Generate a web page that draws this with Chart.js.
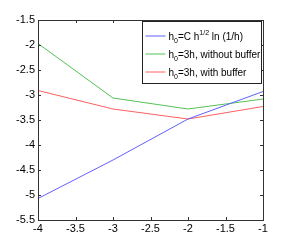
<!DOCTYPE html>
<html>
<head>
<meta charset="utf-8">
<script src="https://cdn.jsdelivr.net/npm/chart.js@4/dist/chart.umd.min.js"></script>
<style>
    html, body { margin: 0; padding: 0; background: #fff; }
    #wrap { width: 291px; height: 249px; }
</style>
</head>
<body>
<div id="wrap"><canvas id="chart" width="291" height="249"></canvas></div>
<script>
const xValues = [-4, -3, -2, -1];
const blueValues = [-5.07, -4.3, -3.48, -2.93];
const greenValues = [-1.97, -3.06, -3.28, -3.08];
const redValues = [-2.91, -3.28, -3.48, -3.23];
const xTicks = [-4, -3.5, -3, -2.5, -2, -1.5, -1];
const yTicks = [-1.5, -2, -2.5, -3, -3.5, -4, -4.5, -5, -5.5];
const legendLabels = [
    { sub: '0', rest: '=C h', sup: '1/2', tail: ' ln (1/h)' },
    { sub: '0', rest: '=3h, without buffer' },
    { sub: '0', rest: '=3h, with buffer' }
];
const colors = ['#6060ff', '#55c055', '#ff6060'];

const FONT = '"Liberation Sans", Arial, sans-serif';

function toPoints(ys) {
    return xValues.map((x, i) => ({ x: x, y: ys[i] }));
}

// box around the axes with inward ticks, like matlab
const boxPlugin = {
    id: 'box',
    afterDraw(chart) {
        const ctx = chart.ctx;
        const a = chart.chartArea;
        const xs = chart.scales.x, ys = chart.scales.y;
        ctx.save();
        ctx.strokeStyle = '#333';
        ctx.lineWidth = 1;
        ctx.strokeRect(Math.round(a.left) + 0.5, Math.round(a.top) + 0.5,
            Math.round(a.right - a.left), Math.round(a.bottom - a.top));
        ctx.beginPath();
        xTicks.forEach(v => {
            const px = Math.round(xs.getPixelForValue(v)) + 0.5;
            ctx.moveTo(px, a.bottom); ctx.lineTo(px, a.bottom - 3);
            ctx.moveTo(px, a.top); ctx.lineTo(px, a.top + 3);
        });
        yTicks.forEach(v => {
            const py = Math.round(ys.getPixelForValue(v)) + 0.5;
            ctx.moveTo(a.left, py); ctx.lineTo(a.left + 3, py);
            ctx.moveTo(a.right, py); ctx.lineTo(a.right - 3, py);
        });
        ctx.stroke();
        ctx.restore();
    }
};

// legend with sub/superscripts
const legendPlugin = {
    id: 'texLegend',
    afterDraw(chart) {
        const ctx = chart.ctx;
        const a = chart.chartArea;
        const bx = 142.5, by = a.top + 1.5, bw = 119, bh = 62;
        ctx.save();
        ctx.fillStyle = '#fff';
        ctx.fillRect(bx, by, bw, bh);
        ctx.strokeStyle = '#222';
        ctx.lineWidth = 1;
        ctx.strokeRect(bx, by, bw, bh);
        const rowsY = [by + 14, by + 32, by + 50];
        legendLabels.forEach((lab, i) => {
            const y = rowsY[i];
            ctx.strokeStyle = colors[i];
            ctx.beginPath();
            ctx.moveTo(bx + 3, y + 0.5);
            ctx.lineTo(bx + 23, y + 0.5);
            ctx.stroke();
            ctx.fillStyle = '#000';
            ctx.textBaseline = 'alphabetic';
            let x = bx + 26;
            ctx.font = '10px ' + FONT;
            ctx.fillText('h', x, y + 4);
            x += ctx.measureText('h').width;
            ctx.font = '7px ' + FONT;
            ctx.fillText(lab.sub, x, y + 7);
            x += ctx.measureText(lab.sub).width;
            ctx.font = '10px ' + FONT;
            ctx.fillText(lab.rest, x, y + 4);
            x += ctx.measureText(lab.rest).width;
            if (lab.sup) {
                ctx.font = '7px ' + FONT;
                ctx.fillText(lab.sup, x, y - 1);
                x += ctx.measureText(lab.sup).width;
                ctx.font = '10px ' + FONT;
                ctx.fillText(lab.tail, x, y + 4);
            }
        });
        ctx.restore();
    }
};

const ctx = document.getElementById('chart').getContext('2d');
new Chart(ctx, {
    type: 'line',
    data: {
        datasets: [
            { data: toPoints(blueValues), borderColor: colors[0] },
            { data: toPoints(greenValues), borderColor: colors[1] },
            { data: toPoints(redValues), borderColor: colors[2] }
        ]
    },
    options: {
        responsive: false,
        animation: false,
        elements: {
            line: { borderWidth: 1, tension: 0, fill: false },
            point: { radius: 0 }
        },
        layout: { padding: { top: 20, right: 28, left: 0, bottom: 0 } },
        plugins: { legend: { display: false }, tooltip: { enabled: false } },
        scales: {
            x: {
                type: 'linear',
                min: -4, max: -1,
                afterBuildTicks: s => { s.ticks = xTicks.map(v => ({ value: v })); },
                afterFit: s => { s.height = 29; },
                grid: { display: false, drawTicks: false },
                border: { display: false },
                ticks: {
                    color: '#000', font: { family: FONT, size: 11 }, padding: 2,
                    maxRotation: 0, autoSkip: false,
                    callback: v => String(v)
                }
            },
            y: {
                type: 'linear',
                min: -5.5, max: -1.5,
                afterBuildTicks: s => { s.ticks = yTicks.map(v => ({ value: v })); },
                afterFit: s => { s.width = 38; },
                grid: { display: false, drawTicks: false },
                border: { display: false },
                ticks: {
                    color: '#000', font: { family: FONT, size: 11 }, padding: 3,
                    autoSkip: false,
                    callback: v => String(v)
                }
            }
        }
    },
    plugins: [boxPlugin, legendPlugin]
});
</script>
</body>
</html>
